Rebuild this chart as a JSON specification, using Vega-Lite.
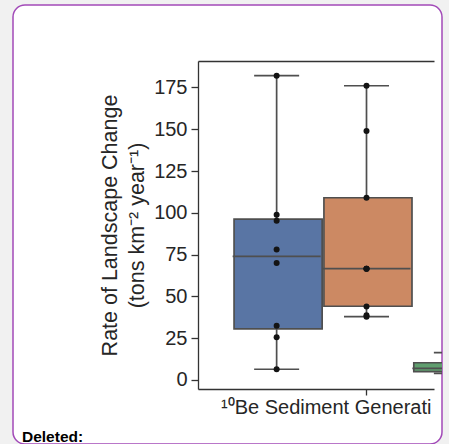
{
  "$schema": "https://vega.github.io/schema/vega-lite/v6.json",
  "width": 429,
  "height": 439,
  "autosize": {"type": "none"},
  "padding": {"left": 13, "top": 5, "right": 7, "bottom": 0},
  "background": "#f1f1f1",
  "view": {"fill": "white", "stroke": "#a24ab8", "strokeWidth": 1.5, "cornerRadius": 12},
  "config": {
    "font": "Liberation Sans",
    "axis": {"grid": false, "domainColor": "#333333", "tickColor": "#333333", "domainWidth": 1.3, "tickWidth": 1.3, "labelColor": "#262626", "titleColor": "#262626", "labelFont": "Liberation Sans", "titleFont": "Liberation Sans"},
    "axisY": {"offset": -185, "tickSize": 7, "labelFontSize": 20, "labelPadding": 4, "titleFontSize": 21.5, "titleFontWeight": "normal", "titlePadding": 5, "titleLineHeight": 27}
  },
  "title": {"text": "Deleted:", "orient": "bottom", "anchor": "start", "frame": "group", "dx": 9, "dy": -18, "fontSize": 15.5, "fontWeight": "bold", "font": "Liberation Sans", "color": "#000000"},
  "datasets": {
    "boxes": [
      {"cat": "¹⁰Be Sediment Generation", "group": "Group 1", "lower": 6.4, "q1": 30.6, "median": 73.9, "q3": 96.2, "upper": 182},
      {"cat": "¹⁰Be Sediment Generation", "group": "Group 2", "lower": 37.9, "q1": 44.1, "median": 66.6, "q3": 109, "upper": 176},
      {"cat": "¹⁰Be Sediment Generation", "group": "Group 3", "lower": 3.9, "q1": 5.0, "median": 6.9, "q3": 10.3, "upper": 16.4}
    ],
    "points": [
      {"cat": "¹⁰Be Sediment Generation", "group": "Group 1", "value": 182},
      {"cat": "¹⁰Be Sediment Generation", "group": "Group 1", "value": 98.8},
      {"cat": "¹⁰Be Sediment Generation", "group": "Group 1", "value": 95.2},
      {"cat": "¹⁰Be Sediment Generation", "group": "Group 1", "value": 78.1},
      {"cat": "¹⁰Be Sediment Generation", "group": "Group 1", "value": 70.0},
      {"cat": "¹⁰Be Sediment Generation", "group": "Group 1", "value": 32.4},
      {"cat": "¹⁰Be Sediment Generation", "group": "Group 1", "value": 25.6},
      {"cat": "¹⁰Be Sediment Generation", "group": "Group 1", "value": 6.4},
      {"cat": "¹⁰Be Sediment Generation", "group": "Group 2", "value": 176},
      {"cat": "¹⁰Be Sediment Generation", "group": "Group 2", "value": 148.9},
      {"cat": "¹⁰Be Sediment Generation", "group": "Group 2", "value": 109.0},
      {"cat": "¹⁰Be Sediment Generation", "group": "Group 2", "value": 66.6},
      {"cat": "¹⁰Be Sediment Generation", "group": "Group 2", "value": 66.6},
      {"cat": "¹⁰Be Sediment Generation", "group": "Group 2", "value": 66.6},
      {"cat": "¹⁰Be Sediment Generation", "group": "Group 2", "value": 43.9},
      {"cat": "¹⁰Be Sediment Generation", "group": "Group 2", "value": 38.7},
      {"cat": "¹⁰Be Sediment Generation", "group": "Group 2", "value": 37.8}
    ]
  },
  "layer": [
    {
      "data": {"name": "boxes"},
      "mark": {"type": "rule", "color": "#4f4f4f", "strokeWidth": 1.7, "clip": true},
      "encoding": {
        "x": {"field": "cat", "type": "nominal", "scale": {"range": [185, 421], "paddingInner": 0, "paddingOuter": 0},
              "axis": {"orient": "top", "offset": -56, "labels": false, "ticks": false, "domain": true, "title": null}},
        "xOffset": {"field": "group", "type": "nominal", "scale": {"domain": ["Group 1", "Group 2", "Group 3"], "range": [33.7, 303.3], "paddingInner": 0, "paddingOuter": 0}},
        "y": {"field": "lower", "type": "quantitative", "scale": {"domain": [-5.4, 190.8], "range": [384, 56], "nice": false, "zero": false},
              "axis": {"values": [0, 25, 50, 75, 100, 125, 150, 175], "title": ["Rate of Landscape Change", "(tons km⁻² year⁻¹)"]}},
        "y2": {"field": "q1"}
      }
    },
    {
      "data": {"name": "boxes"},
      "mark": {"type": "rule", "color": "#4f4f4f", "strokeWidth": 1.7, "clip": true},
      "encoding": {
        "x": {"field": "cat", "type": "nominal", "axis": null},
        "xOffset": {"field": "group", "type": "nominal"},
        "y": {"field": "q3", "type": "quantitative",
              "axis": {"values": [0, 25, 50, 75, 100, 125, 150, 175], "title": ["Rate of Landscape Change", "(tons km⁻² year⁻¹)"]}},
        "y2": {"field": "upper"}
      }
    },
    {
      "data": {"name": "boxes"},
      "mark": {"type": "tick", "color": "#4f4f4f", "thickness": 1.7, "size": 45, "clip": true, "opacity": 1},
      "encoding": {
        "x": {"field": "cat", "type": "nominal", "axis": null},
        "xOffset": {"field": "group", "type": "nominal"},
        "y": {"field": "lower", "type": "quantitative",
              "axis": {"values": [0, 25, 50, 75, 100, 125, 150, 175], "title": ["Rate of Landscape Change", "(tons km⁻² year⁻¹)"]}}
      }
    },
    {
      "data": {"name": "boxes"},
      "mark": {"type": "tick", "color": "#4f4f4f", "thickness": 1.7, "size": 45, "clip": true, "opacity": 1},
      "encoding": {
        "x": {"field": "cat", "type": "nominal", "axis": null},
        "xOffset": {"field": "group", "type": "nominal"},
        "y": {"field": "upper", "type": "quantitative",
              "axis": {"values": [0, 25, 50, 75, 100, 125, 150, 175], "title": ["Rate of Landscape Change", "(tons km⁻² year⁻¹)"]}}
      }
    },
    {
      "data": {"name": "boxes"},
      "mark": {"type": "bar", "stroke": "#4f4f4f", "strokeWidth": 1.7, "clip": true, "width": {"band": 0.98}},
      "encoding": {
        "x": {"field": "cat", "type": "nominal",
              "axis": {"orient": "bottom", "offset": -55, "bandPosition": 0.712, "tickSize": 6, "labelAngle": 0, "labelAlign": "left", "labelOffset": -95,
                       "labelExpr": "slice(datum.label, 0, 22)", "labelFontSize": 20, "labelPadding": 2, "labelLimit": 400, "title": null}},
        "xOffset": {"field": "group", "type": "nominal"},
        "y": {"field": "q1", "type": "quantitative",
              "axis": {"values": [0, 25, 50, 75, 100, 125, 150, 175], "title": ["Rate of Landscape Change", "(tons km⁻² year⁻¹)"]}},
        "y2": {"field": "q3"},
        "color": {"field": "group", "type": "nominal", "scale": {"domain": ["Group 1", "Group 2", "Group 3"], "range": ["#5975a4", "#cc8963", "#5f9e6e"]}, "legend": null}
      }
    },
    {
      "data": {"name": "boxes"},
      "mark": {"type": "tick", "color": "#4f4f4f", "thickness": 1.7, "size": 88, "clip": true, "opacity": 1},
      "encoding": {
        "x": {"field": "cat", "type": "nominal", "axis": null},
        "xOffset": {"field": "group", "type": "nominal"},
        "y": {"field": "median", "type": "quantitative",
              "axis": {"values": [0, 25, 50, 75, 100, 125, 150, 175], "title": ["Rate of Landscape Change", "(tons km⁻² year⁻¹)"]}}
      }
    },
    {
      "data": {"name": "points"},
      "mark": {"type": "point", "filled": true, "color": "#141414", "size": 36, "opacity": 1, "clip": true},
      "encoding": {
        "x": {"field": "cat", "type": "nominal", "axis": null},
        "xOffset": {"field": "group", "type": "nominal"},
        "y": {"field": "value", "type": "quantitative",
              "axis": {"values": [0, 25, 50, 75, 100, 125, 150, 175], "title": ["Rate of Landscape Change", "(tons km⁻² year⁻¹)"]}}
      }
    }
  ],
  "resolve": {"axis": {"x": "independent"}}
}
